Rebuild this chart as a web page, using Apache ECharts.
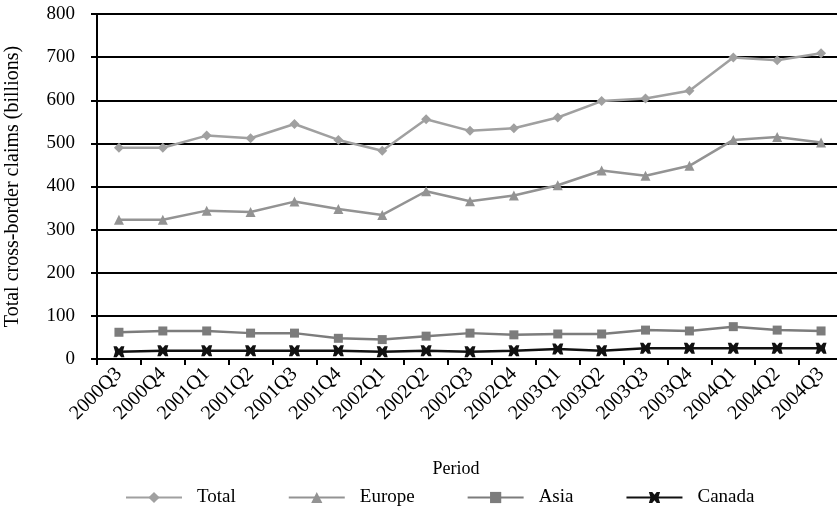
<!DOCTYPE html>
<html><head><meta charset="utf-8">
<script src="https://cdn.jsdelivr.net/npm/echarts@6/dist/echarts.min.js"></script>
<style>html,body{margin:0;padding:0;background:#fff}#c{width:837px;height:514px}</style>
</head><body><div id="c"></div>
<script>
const categories = ["2000Q3","2000Q4","2001Q1","2001Q2","2001Q3","2001Q4","2002Q1","2002Q2","2002Q3","2002Q4","2003Q1","2003Q2","2003Q3","2003Q4","2004Q1","2004Q2","2004Q3"];
const total  = [490,490,518,512,545,508,483,556,529,535,560,598,604,622,699,693,709];
const europe = [323,323,344,341,365,348,334,389,366,379,403,437,425,448,508,515,502];
const asia   = [62,65,65,60,60,48,45,53,60,56,58,58,67,65,75,67,65];
const canada = [17,19,19,19,19,19,17,19,17,19,23,19,25,25,25,25,25];
const yTicks = [0,100,200,300,400,500,600,700,800];

const font = "'Liberation Serif', 'Times New Roman', serif";
const canadaSym = 'path://M0,0 L3,0 L5,2.5 L7,0 L10,0 L8.5,5 L10,10 L7,10 L5,7.5 L3,10 L0,10 L1.5,5 Z';
function s(name, data, color, symbol, size, width) {
  return {name, type:'line', data, symbol, symbolSize:size, showSymbol:true,
    lineStyle:{color, width}, itemStyle:{color, borderWidth:0}, animation:false};
}
const chart = echarts.init(document.getElementById('c'));
chart.setOption({
  animation:false,
  textStyle:{fontFamily:font, color:'#000'},
  grid:{left:97, top:14, width:746, height:345, containLabel:false, outerBoundsMode:'none'},
  legend:{left:120, top:483, itemWidth:56, itemHeight:14, itemGap:52,
    textStyle:{fontFamily:font, fontSize:19, color:'#000', padding:[0,0,0,10]},
    data:['Total','Europe','Asia','Canada']},
  xAxis:{type:'category', data:categories, boundaryGap:true,
    name:'Period', nameLocation:'middle', nameGap:101,
    nameTextStyle:{fontFamily:font, fontSize:18, color:'#000', padding:[0,28,0,0]},
    axisLine:{lineStyle:{color:'#000', width:2}},
    axisTick:{show:true, length:6, lineStyle:{color:'#000', width:2}},
    axisLabel:{rotate:45, fontFamily:font, fontSize:20, color:'#000', margin:12, interval:0},
    splitLine:{show:false}},
  yAxis:{type:'value', min:yTicks[0], max:yTicks[yTicks.length-1], interval:100,
    name:'Total cross-border claims (billions)', nameLocation:'middle', nameGap:74,
    nameTextStyle:{fontFamily:font, fontSize:20, color:'#000'},
    axisLine:{show:true, lineStyle:{color:'#000', width:2}},
    axisTick:{show:true, length:6, lineStyle:{color:'#000', width:2}},
    axisLabel:{fontFamily:font, fontSize:19, color:'#000', margin:22},
    splitLine:{show:true, lineStyle:{color:'#000', width:2}}},
  series:[
    s('Total', total, '#a0a0a0', 'diamond', 10, 2.5),
    s('Europe', europe, '#939393', 'triangle', 10, 2.5),
    s('Asia', asia, '#7c7c7c', 'rect', 9, 2.5),
    s('Canada', canada, '#111111', canadaSym, 11, 2.5)
  ]
});
</script></body></html>
